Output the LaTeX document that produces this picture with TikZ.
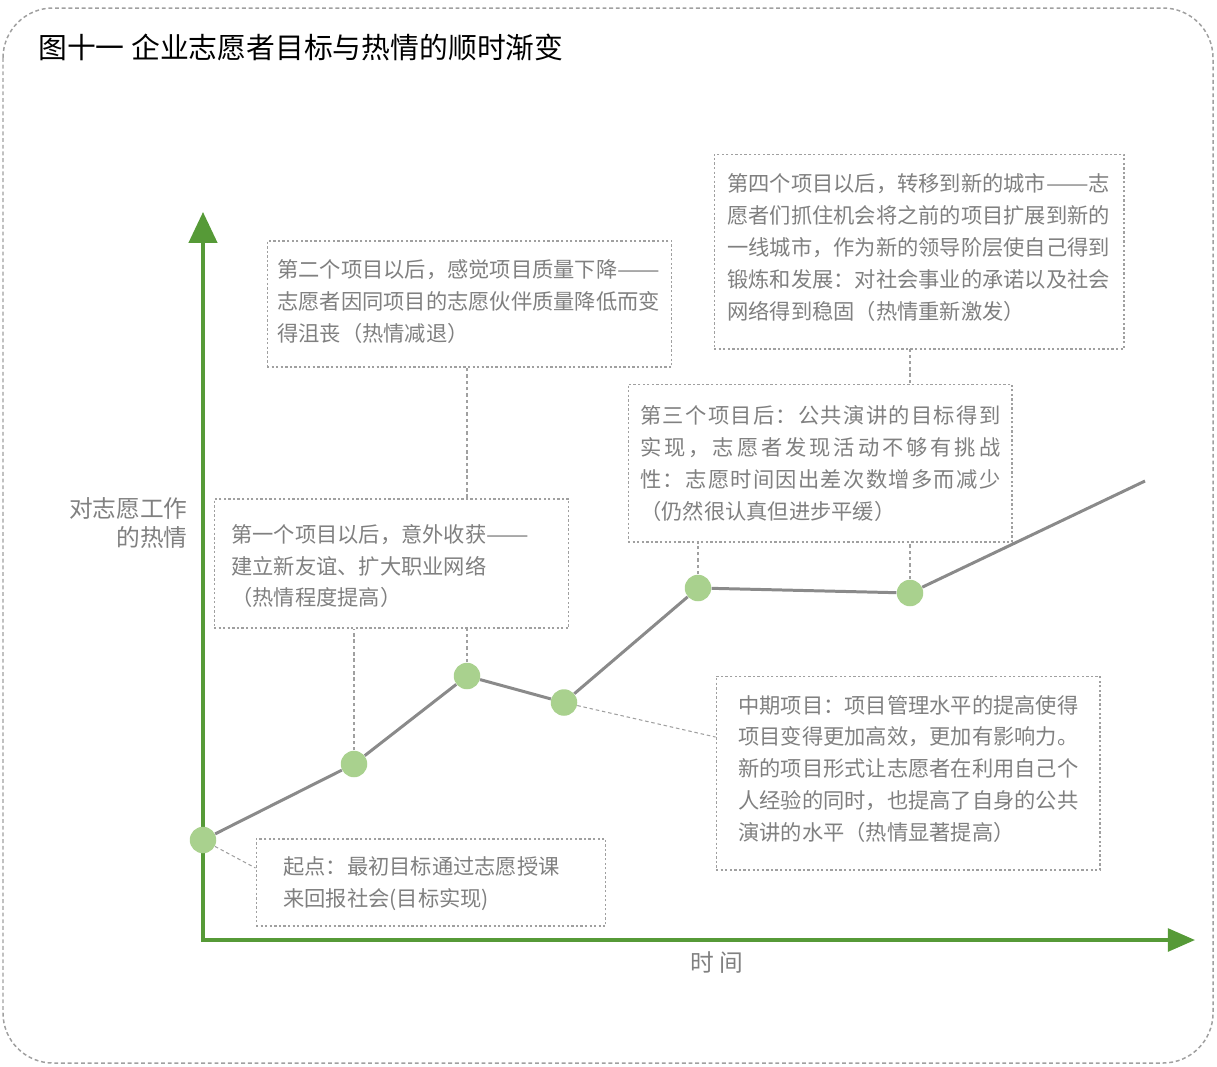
\documentclass[tikz,border=0pt]{standalone}
\usepackage{fontspec}
\usepackage{graphicx}
\setmainfont{Noto Sans CJK SC}
\usetikzlibrary{arrows.meta}
\definecolor{axisgreen}{HTML}{569A37}
\definecolor{dotgreen}{HTML}{A9D18E}
\definecolor{txtgray}{HTML}{808080}
\definecolor{linegray}{HTML}{8A8A8A}
\definecolor{boxgray}{HTML}{A0A0A0}
\def\spA#1{#1\spB}
\def\spB#1{\ifx\relax#1\else\hfil#1\expandafter\spB\fi}
\newcommand{\spreadline}[2]{\makebox[#1][s]{\spA#2\relax}}
\newcommand{\cjkdash}{\resizebox{2em}{\height}{——}}
\tikzset{
  frame/.style={draw=boxgray, line width=0.85pt, dash pattern=on 2.2pt off 1.6pt, rounded corners=1cm},
  notebox/.style={draw=boxgray, fill=white, line width=0.6pt, dash pattern=on 1.3pt off 1.3pt, rectangle, inner sep=0pt},
  notetext/.style={text=txtgray, inner sep=0pt, align=left, anchor=west, font=\fontsize{12.1}{18.2}\selectfont},
  leader/.style={draw=boxgray, line width=0.6pt, dash pattern=on 2pt off 1.6pt},
  datapt/.style={circle, fill=dotgreen, minimum size=0.53cm, inner sep=0pt},
  trend/.style={draw=linegray, line width=1.7pt},
  axisline/.style={draw=axisgreen, line width=2pt},
  axislabel/.style={text=txtgray, inner sep=0pt, font=\fontsize{13.5}{16.5}\selectfont},
}
\begin{document}
\begin{tikzpicture}[x=0.02cm, y=-0.02cm]
\useasboundingbox (0,0) rectangle (1217,1066);
% outer frame
\draw[frame] (3,8) rectangle (1213,1063);
% title
\node[anchor=west, inner sep=0pt, font=\fontsize{16.4}{19}\selectfont] (title) at (38,47) {图十一 企业志愿者目标与热情的顺时渐变};
% axes
\coordinate (O) at (203,940);
\coordinate (Ytip) at (203,212);
\coordinate (Xtip) at (1195,940);
\draw[axisline, {Triangle[length=17.5pt,width=16pt]}-{Triangle[length=15.5pt,width=13pt]}] (Ytip) -- (O) -- (Xtip);
\node[axislabel, align=right, anchor=east] (ylab) at (188,523.5) {对志愿工作\\的热情};
\node[axislabel] (xlab) at (717,963) {时 间};
% data points
\node[datapt] (p0) at (203,840) {};
\node[datapt] (p1) at (354,764) {};
\node[datapt] (p2) at (467,676) {};
\node[datapt] (p3) at (564,702.5) {};
\node[datapt] (p4) at (698,588) {};
\node[datapt] (p5) at (910,593) {};
\coordinate (pe) at (1145,481);
% box centres
\coordinate (cS) at (431,882.5);
\coordinate (c1) at (391.5,563.5);
\coordinate (c2) at (469.5,304);
\coordinate (c3) at (820,463);
\coordinate (c4) at (919,251.5);
\coordinate (cM) at (908,773);
% leaders drawn first so that filled boxes cover their hidden parts
\path (c2) node[minimum width=8.1cm, minimum height=2.52cm, inner sep=0pt] (b2g) {};
\path (c4) node[minimum width=8.2cm, minimum height=3.9cm, inner sep=0pt] (b4g) {};
\draw[leader] (p2) -- (p2 |- b2g.south);
\draw[leader] (p5) -- (p5 |- b4g.south);
% boxes
\node[notebox, minimum width=7cm, minimum height=1.74cm] (bS) at (cS) {};
\node[notebox, minimum width=7.1cm, minimum height=2.58cm] (b1) at (c1) {};
\node[notebox, minimum width=8.1cm, minimum height=2.52cm] (b2) at (c2) {};
\node[notebox, minimum width=7.68cm, minimum height=3.16cm] (b3) at (c3) {};
\node[notebox, minimum width=8.2cm, minimum height=3.9cm] (b4) at (c4) {};
\node[notebox, minimum width=7.68cm, minimum height=3.88cm] (bM) at (cM) {};
% other leaders
\draw[leader] (p0) -- ([yshift=0.29cm]bS.west);
\draw[leader] (p1) -- (p1 |- b1.south);
\draw[leader] (p3) -- ([yshift=0.72cm]bM.west);
\draw[leader] (p4) -- (p4 |- b3.south);
% trend line
\draw[trend] (p0) -- (p1) -- (p2) -- (p3) -- (p4) -- (p5) -- (pe);
% texts
\node[notetext] (tS) at (283,884) {起点：最初目标通过志愿授课\\来回报社会(目标实现)};
\node[notetext] (t1) at (231,566) {第一个项目以后，意外收获\cjkdash\\建立新友谊、扩大职业网络\\（热情程度提高）};
\node[notetext] (t2) at (277,302) {第二个项目以后，感觉项目质量下降\cjkdash\\志愿者因同项目的志愿伙伴质量降低而变\\得沮丧（热情减退）};
\node[notetext] (t3) at (640,463.5) {\spreadline{7.2cm}{第三个项目后：公共演讲的目标得到}\\\spreadline{7.2cm}{实现，志愿者发现活动不够有挑战}\\\spreadline{7.2cm}{性：志愿时间因出差次数增多而减少}\\（仍然很认真但进步平缓）};
\node[notetext] (t4) at (727,247.6) {第四个项目以后，转移到新的城市\cjkdash 志\\愿者们抓住机会将之前的项目扩展到新的\\一线城市，作为新的领导阶层使自己得到\\锻炼和发展：对社会事业的承诺以及社会\\网络得到稳固（热情重新激发）};
\node[notetext] (tM) at (738,769) {中期项目：项目管理水平的提高使得\\项目变得更加高效，更加有影响力。\\新的项目形式让志愿者在利用自己个\\人经验的同时，也提高了自身的公共\\演讲的水平（热情显著提高）};
\end{tikzpicture}
\end{document}
